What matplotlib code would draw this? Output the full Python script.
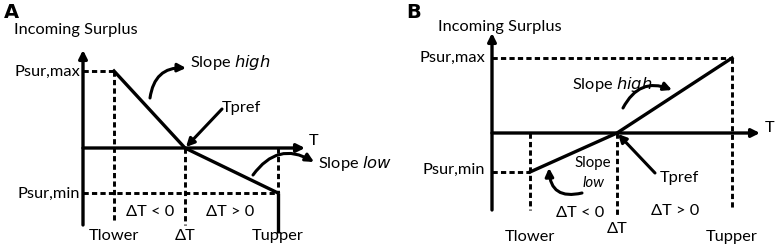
import matplotlib.pyplot as plt
from matplotlib.patches import FancyArrowPatch

# key points of the two schematics, in picture pixels (x right, y down)
# panel A: falling line
a_origin = (83, 225)
a_top = 50
a_xend = 305
a_axis_y = 148
a_tlower = 114
a_tref = 185
a_tupper = 278
a_pmax = 71
a_pmin = 193

# panel B: rising line
b_origin = (492, 210)
b_top = 33
b_xend = 760
b_axis_y = 133
b_tlower = 530
b_tref = 617
b_tupper = 732
b_pmax = 58
b_pmin = 172

plt.rcParams['font.family'] = ['Lato', 'DejaVu Sans']
FS = 11.8

fig = plt.figure(figsize=(7.75, 2.47), dpi=100)
ax = fig.add_axes([0, 0, 1, 1])
ax.set_xlim(0, 775)
ax.set_ylim(247, 0)
ax.axis('off')

LW = 2.4
DLW = 2.1
dash = (0, (1.8, 1.1))


def axis_arrows(x0, ybot, ytop, yax, xend):
    ax.annotate('', xy=(x0, ytop), xytext=(x0, ybot),
                arrowprops=dict(arrowstyle='-|>', lw=LW, color='k', mutation_scale=12,
                                shrinkA=0, shrinkB=0))
    ax.annotate('', xy=(xend, yax), xytext=(x0, yax),
                arrowprops=dict(arrowstyle='-|>', lw=LW, color='k', mutation_scale=12,
                                shrinkA=0, shrinkB=0))


def curved(p0, p1, rad):
    ax.add_patch(FancyArrowPatch(p0, p1, connectionstyle='arc3,rad=%s' % rad,
                                 arrowstyle='-|>', mutation_scale=12, lw=2.2, color='k',
                                 shrinkA=0, shrinkB=0))


# ---------- panel A ----------
ax.text(4, 12, 'A', fontsize=14, fontweight='bold', fontfamily='DejaVu Sans', va='center')
ax.text(14, 30, 'Incoming Surplus', fontsize=FS, va='center')
axis_arrows(a_origin[0], a_origin[1], a_top, a_axis_y, a_xend)
ax.text(309, 141, 'T', fontsize=FS, va='center')

ax.plot([a_origin[0], a_tlower], [a_pmax, a_pmax], 'k', lw=DLW, ls=dash)
ax.plot([a_tlower, a_tlower], [a_pmax, 222], 'k', lw=DLW, ls=dash)
ax.plot([a_origin[0], a_tupper], [a_pmin, a_pmin], 'k', lw=DLW, ls=dash)
ax.plot([a_tref, a_tref], [a_axis_y, 225], 'k', lw=DLW, ls=dash)
ax.plot([a_tupper, a_tupper], [a_axis_y, a_pmin], 'k', lw=DLW, ls=dash)
ax.plot([a_tupper, a_tupper], [a_pmin, 233], 'k', lw=LW, solid_capstyle='butt')

ax.plot([a_tlower, a_tref, a_tupper], [a_pmax, a_axis_y, a_pmin], 'k', lw=LW)

ax.text(80, 72, 'Psur,max', fontsize=FS, ha='right', va='center')
ax.text(80, 194, 'Psur,min', fontsize=FS, ha='right', va='center')

ax.annotate('', xy=(a_tref + 1, a_axis_y - 1), xytext=(222, 109),
            arrowprops=dict(arrowstyle='-|>', lw=2.2, color='k', mutation_scale=12,
                            shrinkA=0, shrinkB=0))
ax.text(222, 108, 'Tpref', fontsize=FS, va='center')

curved((150, 98), (186, 68), -0.45)
ax.text(190, 62, 'Slope $\\it{high}$', fontsize=FS, va='center')
curved((253, 175), (314, 162), -0.45)
ax.text(318, 163, 'Slope $\\it{low}$', fontsize=FS, va='center')

ax.text(150, 212, '\u0394T < 0', fontsize=FS, ha='center', va='center')
ax.text(230, 212, '\u0394T > 0', fontsize=FS, ha='center', va='center')
ax.text(a_tlower, 236, 'Tlower', fontsize=FS, ha='center', va='center')
ax.text(a_tref, 236, '\u0394T', fontsize=FS, ha='center', va='center')
ax.text(a_tupper, 236, 'Tupper', fontsize=FS, ha='center', va='center')

# ---------- panel B ----------
ax.text(406, 12, 'B', fontsize=14, fontweight='bold', fontfamily='DejaVu Sans', va='center')
ax.text(438, 27, 'Incoming Surplus', fontsize=FS, va='center')
axis_arrows(b_origin[0], b_origin[1], b_top, b_axis_y, b_xend)
ax.text(765, 128, 'T', fontsize=FS, va='center')

ax.plot([b_origin[0], b_tupper], [b_pmax, b_pmax], 'k', lw=DLW, ls=dash)
ax.plot([b_tupper, b_tupper], [b_pmax, 210], 'k', lw=DLW, ls=dash)
ax.plot([b_origin[0], b_tlower], [b_pmin, b_pmin], 'k', lw=DLW, ls=dash)
ax.plot([b_tlower, b_tlower], [b_axis_y, 210], 'k', lw=DLW, ls=dash)
ax.plot([b_tref, b_tref], [b_axis_y, 217], 'k', lw=DLW, ls=dash)

ax.plot([b_tlower, b_tref, b_tupper], [b_pmin, b_axis_y, b_pmax], 'k', lw=LW)

ax.text(485, 58, 'Psur,max', fontsize=FS, ha='right', va='center')
ax.text(485, 170, 'Psur,min', fontsize=FS, ha='right', va='center')

ax.annotate('', xy=(b_tref + 1, b_axis_y + 1), xytext=(655, 173),
            arrowprops=dict(arrowstyle='-|>', lw=2.2, color='k', mutation_scale=12,
                            shrinkA=0, shrinkB=0))
ax.text(660, 178, 'Tpref', fontsize=FS, va='center')

ax.text(572, 84, 'Slope $\\it{high}$', fontsize=FS, va='center')
curved((623, 108), (672, 90), -0.45)
ax.text(593, 163, 'Slope', fontsize=FS - 1, ha='center', va='center')
ax.text(594, 183, 'low', fontsize=FS - 1, ha='center', va='center', style='italic')
curved((582, 193), (549, 168), -0.6)

ax.text(580, 213, '\u0394T < 0', fontsize=FS, ha='center', va='center')
ax.text(675, 211, '\u0394T > 0', fontsize=FS, ha='center', va='center')
ax.text(b_tlower, 237, 'Tlower', fontsize=FS, ha='center', va='center')
ax.text(b_tref, 229, '\u0394T', fontsize=FS, ha='center', va='center')
ax.text(b_tupper, 237, 'Tupper', fontsize=FS, ha='center', va='center')

fig.savefig('out.png', dpi=100)
